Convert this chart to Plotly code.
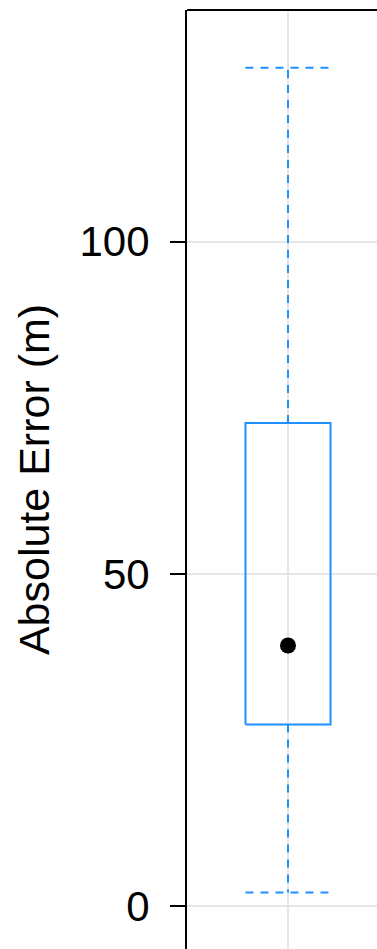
import plotly.graph_objects as go

# Summary statistics of the absolute error (metres)
stat_names = ["lower_whisker", "q1", "median", "q3", "upper_whisker"]
stat_values = [2.0, 27.3, 39.2, 72.7, 126.2]
y_tick_values = [0, 50, 100]
y_tick_labels = ["0", "50", "100"]

lo, q1, med, q3, hi = stat_values
center = 0.0
half_box = 0.5
half_cap = 0.5

blue = "#1E90FF"
dash = "8px,7px"

fig = go.Figure()

# box outline
fig.add_trace(go.Scatter(
    x=[center - half_box, center + half_box, center + half_box, center - half_box, center - half_box],
    y=[q1, q1, q3, q3, q1],
    mode="lines", line=dict(color=blue, width=2), hoverinfo="skip", showlegend=False))

# dashed whiskers and caps
for start, end in [(q3, hi), (q1, lo)]:
    fig.add_trace(go.Scatter(
        x=[center, center], y=[start, end], mode="lines",
        line=dict(color=blue, width=2, dash=dash), hoverinfo="skip", showlegend=False))
    fig.add_trace(go.Scatter(
        x=[center - half_cap, center + half_cap], y=[end, end], mode="lines",
        line=dict(color=blue, width=2, dash=dash), hoverinfo="skip", showlegend=False))

# median point
fig.add_trace(go.Scatter(
    x=[center], y=[med], mode="markers",
    marker=dict(color="black", size=16), showlegend=False))

fig.update_layout(
    width=377, height=949,
    margin=dict(l=187, r=0, t=10, b=0),
    plot_bgcolor="white", paper_bgcolor="white",
    font=dict(family="Liberation Sans, Helvetica, Arial, sans-serif", color="black"),
    shapes=[dict(type="line", xref="paper", yref="paper", x0=0, x1=1, y0=1, y1=1,
                 line=dict(color="black", width=2))],
)

fig.update_xaxes(
    range=[-1.188, 1.047], tickvals=[0], showticklabels=False, ticks="",
    showgrid=True, gridcolor="#e6e6e6", gridwidth=2, zeroline=False, showline=False)

fig.update_yaxes(
    range=[-6.5, 134.9], tickvals=y_tick_values, ticktext=y_tick_labels,
    ticks="outside", ticklen=15, tickwidth=2, tickcolor="black",
    tickfont=dict(size=42), ticklabelstandoff=12,
    showgrid=True, gridcolor="#e6e6e6", gridwidth=2, zeroline=False,
    showline=True, linecolor="black", linewidth=2,
    title=dict(text="Absolute Error (m)", font=dict(size=43), standoff=16))

fig.write_html("out.html")
